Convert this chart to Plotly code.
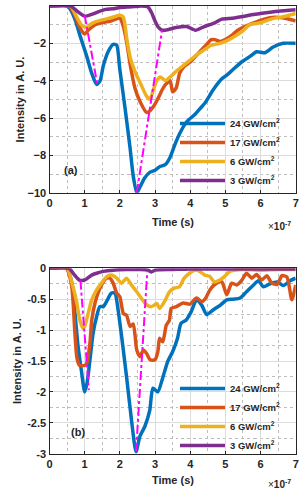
import plotly.graph_objects as go

# ---------------- data (time in units of 1e-7 s) ----------------
series_names = ["24 GW/cm<sup>2</sup>", "17 GW/cm<sup>2</sup>", "6 GW/cm<sup>2</sup>", "3 GW/cm<sup>2</sup>"]
series_colors = ["#0072BD", "#D95319", "#EDB120", "#7E2F8E"]

# panel (a)
a24_t = [0, 0.5, 0.6, 0.73, 0.87, 1.06, 1.2, 1.34, 1.44, 1.53, 1.68, 1.81, 1.91, 2.0, 2.15, 2.29, 2.38, 2.48, 2.57, 2.71,
         2.86, 3.0, 3.14, 3.29, 3.43, 3.57, 3.71, 3.9, 4.14, 4.28, 4.42, 4.65, 4.9, 5.04, 5.22, 5.46, 5.7, 5.89, 6.13, 6.36, 6.64, 7.0]
a24_i = [0, 0, -0.2, -0.75, -1.6, -2.7, -3.6, -4.2, -4.0, -3.2, -2.4, -2.05, -2.1, -3.4, -5.5, -7.6, -9.1, -10, -9.7, -9.2,
         -8.9, -8.8, -8.6, -8.5, -8.1, -7.4, -6.8, -6.2, -5.8, -5.5, -5.2, -4.5, -3.9, -3.7, -3.4, -3.0, -2.7, -2.45, -2.5, -2.2, -2.0, -2.0]

a17_t = [0, 0.55, 0.7, 0.85, 1.0, 1.1, 1.3, 1.6, 1.75, 2.0, 2.1, 2.2, 2.3, 2.43, 2.57, 2.76, 2.86, 2.95, 3.1, 3.2, 3.3, 3.43,
         3.5, 3.6, 3.7, 3.82, 4.0, 4.2, 4.4, 4.6, 4.7, 4.85, 5.0, 5.2, 5.35, 5.55, 5.8, 5.95, 6.1, 6.4, 6.7, 6.9, 7.0]
a17_i = [0, 0, -0.4, -1.1, -1.5, -1.3, -1.0, -0.85, -0.8, -0.65, -1.1, -2.0, -3.2, -4.4, -5.1, -5.7, -5.6, -5.4, -4.9, -4.5, -4.2, -4.0,
         -4.6, -4.4, -3.6, -3.25, -3.0, -2.6, -2.2, -1.8, -1.8, -1.9, -1.8, -1.55, -1.3, -1.1, -0.9, -0.8, -0.7, -0.6, -0.66, -0.75, -0.8]

a6_t = [0, 0.6, 0.75, 0.9, 1.05, 1.15, 1.3, 1.6, 1.8, 2.0, 2.1, 2.2, 2.3, 2.45, 2.6, 2.75, 2.86, 2.95, 3.05, 3.15, 3.3,
        3.43, 3.6, 3.8, 4.0, 4.2, 4.4, 4.6, 4.85, 5.0, 5.2, 5.45, 5.7, 6.0, 6.3, 6.7, 7.0]
a6_i = [0, 0, -0.5, -1.0, -1.15, -1.0, -0.85, -0.7, -0.6, -0.5, -0.6, -1.8, -2.8, -3.6, -4.2, -4.8, -5.0, -4.5, -4.0, -3.8, -4.0,
        -3.8, -3.5, -3.2, -2.9, -2.6, -2.35, -2.1, -2.0, -1.9, -1.7, -1.4, -1.0, -0.9, -0.7, -0.55, -0.4]

a3_t = [0, 0.6, 0.8, 1.0, 1.2, 1.4, 1.6, 1.8, 2.0, 2.2, 2.4, 2.6, 2.8, 2.9, 3.0, 3.1, 3.2, 3.4, 3.6, 3.9, 4.15, 4.4, 4.7,
        4.9, 5.2, 5.5, 5.8, 6.1, 6.5, 7.0]
a3_i = [0, 0, -0.3, -0.55, -0.45, -0.3, -0.18, -0.15, -0.08, -0.06, -0.03, 0, -0.05, -0.35, -0.8, -1.15, -1.3, -1.25, -1.15,
        -1.1, -1.3, -1.1, -0.9, -0.7, -0.65, -0.56, -0.45, -0.37, -0.28, -0.2]

a_peak_t = [1.0, 1.36, None, 2.48, 3.2]
a_peak_i = [-0.5, -4.2, None, -10, -1.3]

# panel (b)
b24_t = [0, 0.48, 0.63, 0.72, 0.81, 0.91, 1.0, 1.07, 1.15, 1.24, 1.34, 1.43, 1.53, 1.62, 1.76, 1.86, 1.95, 2.05, 2.19, 2.33,
         2.46, 2.57, 2.71, 2.85, 2.94, 3.08, 3.22, 3.36, 3.5, 3.64, 3.74, 3.88, 4.03, 4.18, 4.33, 4.47, 4.66, 4.85, 5.04, 5.23,
         5.42, 5.6, 5.8, 5.94, 6.08, 6.27, 6.47, 6.65, 6.84, 7.0]
b24_i = [0, 0, -0.22, -0.7, -1.25, -1.67, -2.0, -1.85, -1.48, -1.05, -0.78, -0.62, -0.62, -0.54, -0.4, -0.4, -0.67, -1.1, -1.75, -2.45,
         -2.97, -2.72, -2.56, -2.3, -1.94, -2.0, -1.77, -1.51, -1.35, -1.13, -0.89, -0.84, -0.70, -0.51, -0.6, -0.75, -0.67, -0.6, -0.51, -0.5,
         -0.48, -0.38, -0.27, -0.2, -0.3, -0.25, -0.22, -0.28, -0.2, -0.16]

b17_t = [0, 0.48, 0.63, 0.72, 0.78, 0.85, 1.0, 1.05, 1.15, 1.2, 1.29, 1.38, 1.48, 1.62, 1.72, 1.81, 1.91, 2.0, 2.1, 2.19,
         2.29, 2.38, 2.48, 2.57, 2.67, 2.76, 2.86, 3.0, 3.08, 3.13, 3.22, 3.32, 3.41, 3.46, 3.61, 3.8, 3.99, 4.18, 4.33, 4.42,
         4.56, 4.75, 4.9, 5.04, 5.18, 5.32, 5.46, 5.6, 5.75, 5.89, 6.03, 6.18, 6.32, 6.47, 6.61, 6.75, 6.89, 7.0]
b17_i = [0, 0, -0.28, -1.03, -1.45, -1.57, -1.57, -1.55, -1.21, -0.84, -0.57, -0.4, -0.27, -0.16, -0.16, -0.24, -0.4, -0.46, -0.73, -0.76,
         -0.94, -0.9, -1.32, -1.43, -1.32, -1.38, -1.48, -1.48, -1.35, -1.13, -1.19, -0.92, -0.84, -0.65, -0.62, -0.56, -0.58, -0.48, -0.54, -0.5,
         -0.35, -0.24, -0.22, -0.43, -0.24, -0.27, -0.2, -0.08, -0.16, -0.1, -0.19, -0.12, -0.24, -0.26, -0.12, -0.14, -0.51, -0.27]

b6_t = [0, 0.5, 0.63, 0.77, 0.85, 0.95, 1.0, 1.1, 1.2, 1.34, 1.48, 1.62, 1.76, 1.91, 2.05, 2.19, 2.33, 2.48, 2.62, 2.76,
        2.9, 3.05, 3.13, 3.27, 3.41, 3.55, 3.69, 3.83, 3.98, 4.12, 4.27, 4.41, 4.55, 4.69, 4.84, 4.98, 5.12, 5.26, 5.5, 6.0,
        6.5, 7.0]
b6_i = [0, 0, -0.22, -0.54, -0.81, -0.97, -0.94, -0.73, -0.51, -0.35, -0.24, -0.14, -0.11, -0.16, -0.24, -0.16, -0.27, -0.38, -0.49, -0.59,
        -0.62, -0.57, -0.65, -0.54, -0.38, -0.32, -0.3, -0.16, -0.08, -0.03, -0.05, -0.11, -0.13, -0.22, -0.19, -0.13, -0.05, -0.03, -0.02, -0.03,
        -0.02, -0.02]

b3_t = [0, 0.55, 0.7, 0.85, 1.0, 1.2, 1.34, 1.53, 1.8, 2.2, 2.6, 2.8, 2.9, 3.0, 3.5, 4.0, 5.0, 6.0, 7.0]
b3_i = [0, 0, -0.1, -0.19, -0.19, -0.11, -0.08, -0.05, -0.03, -0.02, -0.02, -0.03, -0.06, -0.03, -0.02, -0.01, -0.01, -0.01, -0.01]

b_peak_t = [0.88, 1.12, None, 2.46, 2.78]
b_peak_i = [-0.2, -1.97, None, -2.97, -0.05]

x_ticks = [0, 1, 2, 3, 4, 5, 6, 7]
a_yticks = [0, -2, -4, -6, -8, -10]
b_yticks = [0, -0.5, -1, -1.5, -2, -2.5, -3]
b_yticktext = ["0", "-0.5", "-1", "-1.5", "-2", "-2.5", "-3"]
panel_labels = ["(a)", "(b)"]
x_title = "Time (s)"
y_title = "Intensity in A. U."

# ---------------- figure ----------------
FONT = "Liberation Sans, Arial, sans-serif"
INK = "#262626"
W, H = 299, 495
fig = go.Figure()

a_sets = [(a24_t, a24_i), (a17_t, a17_i), (a6_t, a6_i), (a3_t, a3_i)]
b_sets = [(b24_t, b24_i), (b17_t, b17_i), (b6_t, b6_i), (b3_t, b3_i)]

for (t, i), name, col in zip(a_sets, series_names, series_colors):
    fig.add_trace(go.Scatter(x=t, y=i, mode="lines", name=name,
                             line=dict(color=col, width=3.5, shape="spline", smoothing=0.6),
                             xaxis="x", yaxis="y", legend="legend"))
fig.add_trace(go.Scatter(x=a_peak_t, y=a_peak_i, mode="lines", line=dict(color="#FF00FF", width=2, dash="dashdot"),
                         showlegend=False, xaxis="x", yaxis="y"))

for (t, i), name, col in zip(b_sets, series_names, series_colors):
    fig.add_trace(go.Scatter(x=t, y=i, mode="lines", name=name,
                             line=dict(color=col, width=3.5, shape="spline", smoothing=0.6),
                             xaxis="x2", yaxis="y2", legend="legend2"))
fig.add_trace(go.Scatter(x=b_peak_t, y=b_peak_i, mode="lines", line=dict(color="#FF00FF", width=2, dash="dashdot"),
                         showlegend=False, xaxis="x2", yaxis="y2"))

dom_x = [49.5 / W, 295.7 / W]
dom_a = [1 - 192.7 / H, 1 - 6 / H]
dom_b = [1 - 453.7 / H, 1 - 268.3 / H]

common_axis = dict(
    showline=True, mirror=True, linecolor=INK, linewidth=1.3,
    ticks="inside", ticklen=3, tickcolor=INK,
    showgrid=True, gridcolor="#DCDCDC", gridwidth=1,
    zeroline=False, automargin=False,
    tickfont=dict(family=FONT, size=11, color=INK, weight="bold"),
)
title_font = dict(family=FONT, size=11, color=INK, weight="bold")

def minor(d):
    return dict(dtick=d, tick0=0, showgrid=True, griddash="dot", gridcolor="#BDBDBD", ticks="")

fig.update_layout(
    width=W, height=H,
    margin=dict(l=0, r=0, t=0, b=0, autoexpand=False),
    paper_bgcolor="white", plot_bgcolor="white",
    font=dict(family=FONT, size=11, color=INK),
    xaxis=dict(domain=dom_x, anchor="y", range=[0, 7], tickvals=x_ticks, minor=minor(0.5), **common_axis),
    yaxis=dict(domain=dom_a, anchor="x", range=[-10, 0], tickvals=a_yticks, minor=minor(1), **common_axis),
    xaxis2=dict(domain=dom_x, anchor="y2", range=[0, 7], tickvals=x_ticks, minor=minor(0.5), **common_axis),
    yaxis2=dict(domain=dom_b, anchor="x2", range=[-3, 0], tickvals=b_yticks, ticktext=b_yticktext, minor=minor(0.25),
                **common_axis),
    legend=dict(x=175 / W, y=1 - 109 / H, xanchor="left", yanchor="top", bgcolor="rgba(0,0,0,0)",
                font=dict(family=FONT, size=9.5, color=INK, weight="bold"), itemwidth=45, tracegroupgap=0),
    legend2=dict(x=175 / W, y=1 - 374 / H, xanchor="left", yanchor="top", bgcolor="rgba(0,0,0,0)",
                 font=dict(family=FONT, size=9.5, color=INK, weight="bold"), itemwidth=45, tracegroupgap=0),
    showlegend=True,
)

# axis titles (placed as paper annotations)
for xc, yc in [(172.6, 222), (172.6, 480)]:
    fig.add_annotation(x=xc / W, y=1 - yc / H, xref="paper", yref="paper", text=x_title, showarrow=False,
                       xanchor="center", yanchor="middle", font=title_font)
for xc, yc in [(20, 99.4), (17, 361)]:
    fig.add_annotation(x=xc / W, y=1 - yc / H, xref="paper", yref="paper", text=y_title, showarrow=False,
                       textangle=-90, xanchor="center", yanchor="middle", font=title_font)

fig.add_annotation(x=0.6, y=-8.8, xref="x", yref="y", text="<b>" + panel_labels[0] + "</b>", showarrow=False,
                   font=dict(size=11, family=FONT, color=INK))
fig.add_annotation(x=0.8, y=-2.65, xref="x2", yref="y2", text="<b>" + panel_labels[1] + "</b>", showarrow=False,
                   font=dict(size=11, family=FONT, color=INK))
for yy in [226, 484]:
    fig.add_annotation(x=293 / W, y=1 - yy / H, xref="paper", yref="paper", xanchor="right", yanchor="middle",
                       text="\u00d7<b>10<sup>-7</sup></b>", showarrow=False, font=dict(size=10, family=FONT, color=INK))

fig.write_html("out.html", config={"displayModeBar": False},
               post_script="document.body.style.margin='0';document.body.style.padding='0';")
